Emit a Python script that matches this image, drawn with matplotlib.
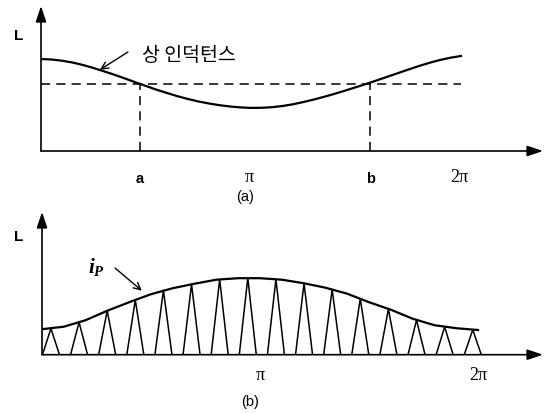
import numpy as np
import matplotlib
matplotlib.use("Agg")
import matplotlib.pyplot as plt

plt.rcParams['font.family'] = ['Liberation Sans', 'Noto Sans CJK KR', 'DejaVu Sans']
plt.rcParams['mathtext.fontset'] = 'custom'
plt.rcParams['mathtext.it'] = 'Liberation Serif:italic:bold'
plt.rcParams['mathtext.rm'] = 'Liberation Serif:bold'

# (a) phase inductance, angle in units of pi
theta_a = [0.00, 0.05, 0.10, 0.15, 0.20, 0.25, 0.30, 0.35, 0.40, 0.45, 0.50,
           0.55, 0.60, 0.65, 0.70, 0.75, 0.80, 0.85, 0.90, 0.95, 1.00,
           1.05, 1.10, 1.15, 1.20, 1.25, 1.30, 1.35, 1.40, 1.45, 1.50,
           1.55, 1.60, 1.65, 1.70, 1.75, 1.80, 1.85, 1.90, 1.95, 2.00]
L_a = [0.920, 0.915, 0.903, 0.885, 0.860, 0.830, 0.797, 0.762, 0.725, 0.687, 0.650,
       0.613, 0.580, 0.548, 0.520, 0.495, 0.475, 0.458, 0.445, 0.436, 0.431,
       0.432, 0.438, 0.450, 0.467, 0.490, 0.515, 0.543, 0.573, 0.605, 0.638,
       0.672, 0.707, 0.743, 0.779, 0.815, 0.850, 0.882, 0.910, 0.933, 0.950]
L_ref = 0.668
pos_a, pos_b = 0.471, 1.567
ticks_a = [(pos_a, 'a'), (1.0, 'π'), (pos_b, 'b'), (2.0, '2π')]

# (b) current pulses and their envelope
peak_t = [0.041, 0.170, 0.299, 0.428, 0.557, 0.686, 0.815, 0.944,
          1.073, 1.202, 1.331, 1.460, 1.589, 1.718, 1.847, 1.976]
peak_i = [0.262, 0.324, 0.44, 0.547, 0.645, 0.703, 0.754, 0.767,
          0.755, 0.714, 0.652, 0.560, 0.457, 0.347, 0.278, 0.25]
env_t = [0.0, 0.1, 0.2, 0.3, 0.4, 0.5, 0.6, 0.7, 0.8, 0.9, 1.0,
         1.1, 1.2, 1.3, 1.4, 1.5, 1.6, 1.7, 1.8, 1.9, 2.0]
env_i = [0.255, 0.28, 0.345, 0.44, 0.525, 0.605, 0.665, 0.71, 0.75, 0.765, 0.765,
         0.75, 0.715, 0.67, 0.61, 0.525, 0.45, 0.36, 0.295, 0.265, 0.247]
ticks_b = [(1.0, 'π'), (2.0, '2π')]

W, H = 549, 414
fig = plt.figure(figsize=(W / 100, H / 100), dpi=100)


def px_axes(left, base, top, right):
    return fig.add_axes([left / W, 1 - base / H, (right - left) / W, (base - top) / H])


def draw_axes(ax, xmax, ymax):
    ax.set_xlim(0, xmax)
    ax.set_ylim(0, ymax)
    ax.axis('off')
    style = '-|>,head_length=0.95,head_width=0.32'
    for end in [(xmax, 0), (0, ymax)]:
        ax.annotate('', xy=end, xytext=(0, 0),
                    arrowprops=dict(arrowstyle=style, mutation_scale=10, lw=1.2,
                                    color='black', shrinkA=0, shrinkB=0),
                    annotation_clip=False)


serif = 'Liberation Serif'

# ---- (a)
ax1 = px_axes(41, 152, 7, 543)
draw_axes(ax1, (543 - 41) / 210, 1.45)
ax1.plot(theta_a, L_a, color='black', lw=1.6, solid_joinstyle='round')
ax1.plot([0, 2.0], [L_ref, L_ref], color='black', lw=1.1, dashes=(6, 4))
for p in (pos_a, pos_b):
    ax1.plot([p, p], [0, L_ref], color='black', lw=1.1, dashes=(6, 4))
for x, lab in ticks_a:
    if 'π' in lab:
        ax1.annotate(lab, xy=(x, 0), xytext=(-2, -26), textcoords='offset pixels',
                     ha='center', va='center', fontsize=13, family=serif)
    else:
        ax1.annotate(lab, xy=(x, 0), xytext=(0, -27), textcoords='offset pixels',
                     ha='center', va='center', fontsize=10.5, fontweight='bold')
ax1.text(0.481, 0.97, '상 인덕턴스', fontsize=14, va='center', ha='left',
         family=['Noto Sans CJK KR', 'DejaVu Sans'])
ax1.annotate('', xy=(0.281, 0.813), xytext=(0.414, 0.99),
             arrowprops=dict(arrowstyle='->,head_length=0.5,head_width=0.25',
                             lw=1.0, color='black', shrinkA=0, shrinkB=0))

# ---- (b)
ax2 = px_axes(42, 355.7, 213, 543)
draw_axes(ax2, (543 - 42) / 218, 1.427)
ax2.plot(env_t, env_i, color='black', lw=1.6, solid_joinstyle='round')
half_w = 0.039
for t, h in zip(peak_t, peak_i):
    ax2.plot([t - half_w, t, t + half_w], [0, h, 0], color='black', lw=1.1)
for x, lab in ticks_b:
    ax2.annotate(lab, xy=(x, 0), xytext=(0, -20), textcoords='offset pixels',
                 ha='center', va='center', fontsize=13, family=serif)
ax2.text(0.211, 0.89, r'$i_P$', fontsize=15, va='center', ha='left')
ax2.annotate('', xy=(0.458, 0.64), xytext=(0.335, 0.867),
             arrowprops=dict(arrowstyle='->,head_length=0.5,head_width=0.25',
                             lw=1.0, color='black', shrinkA=0, shrinkB=0))

# axis names and captions
for y in (36, 237):
    fig.text(19 / W, 1 - y / H, 'L', fontsize=11, fontweight='bold', ha='center', va='center')
fig.text(245 / W, 1 - 197 / H, '(a)', fontsize=10.5, ha='center', va='center')
fig.text(250 / W, 1 - 402 / H, '(b)', fontsize=10.5, ha='center', va='center')

fig.savefig('out.png', dpi=100)
